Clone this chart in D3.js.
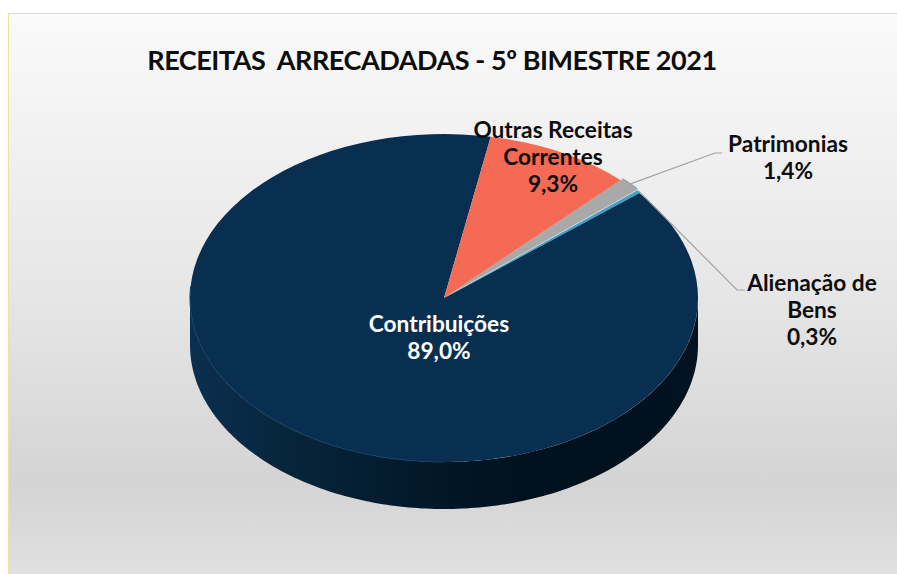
<!DOCTYPE html>
<html>
<head>
<meta charset="utf-8">
<script src="https://cdn.jsdelivr.net/npm/d3@7"></script>
<style>
html, body { margin: 0; padding: 0; background: #fff; }
svg { display: block; }
text { font-family: Lato, sans-serif; font-weight: 700; }
</style>
</head>
<body>
<script>
var categories = ["Contribuições", "Outras Receitas Correntes", "Patrimonias", "Alienação de Bens"];
var values = [89.0, 9.3, 1.4, 0.3];
var valueLabels = ["89,0%", "9,3%", "1,4%", "0,3%"];
var colors = ["#082e50", "#f56a54", "#a9a9a9", "#3f9fc4"];
var titleText = "RECEITAS  ARRECADADAS - 5º BIMESTRE 2021";

var width = 897, height = 574;
var cx = 444, cy = 298, rx = 254, ry = 164, depth = 47;
var squash = ry / rx;
var startDeg = 50.2;

var svg = d3.select("body").append("svg")
    .attr("width", width)
    .attr("height", height);

var defs = svg.append("defs");

var bg = defs.append("linearGradient")
    .attr("id", "bg")
    .attr("x1", 0).attr("y1", 0).attr("x2", 0).attr("y2", 1);
bg.append("stop").attr("offset", "0%").attr("stop-color", "#fafafa");
bg.append("stop").attr("offset", "50%").attr("stop-color", "#e6e6e6");
bg.append("stop").attr("offset", "84%").attr("stop-color", "#d4d4d4");
bg.append("stop").attr("offset", "100%").attr("stop-color", "#e0e0e0");

var sideGrad = defs.append("linearGradient")
    .attr("id", "side")
    .attr("gradientUnits", "userSpaceOnUse")
    .attr("x1", cx - rx).attr("y1", 0).attr("x2", cx + rx).attr("y2", 0);
sideGrad.append("stop").attr("offset", "0%").attr("stop-color", "#0b2f4f");
sideGrad.append("stop").attr("offset", "22%").attr("stop-color", "#062439");
sideGrad.append("stop").attr("offset", "50%").attr("stop-color", "#021626");
sideGrad.append("stop").attr("offset", "68%").attr("stop-color", "#01101d");
sideGrad.append("stop").attr("offset", "100%").attr("stop-color", "#02121f");

// background panel
svg.append("rect")
    .attr("x", 9).attr("y", 14)
    .attr("width", width - 9).attr("height", height - 14)
    .attr("fill", "url(#bg)");
svg.append("line")
    .attr("x1", 9).attr("x2", width).attr("y1", 13.5).attr("y2", 13.5)
    .attr("stroke", "#dcdcdc");
svg.append("line")
    .attr("x1", 8.5).attr("x2", 8.5).attr("y1", 13).attr("y2", height)
    .attr("stroke", "#e8e59a");

svg.append("text")
    .attr("x", 432).attr("y", 70)
    .attr("text-anchor", "middle")
    .attr("font-size", 27)
    .attr("letter-spacing", -0.45)
    .attr("fill", "#0d0d0d")
    .style("white-space", "pre")
    .text(titleText);

var pie = d3.pie()
    .sort(null)
    .startAngle(startDeg * Math.PI / 180)
    .endAngle((startDeg + 360) * Math.PI / 180);
var slices = pie(values);

var arc = d3.arc().innerRadius(0).outerRadius(rx);

// small slices sit a little out of the pie
var pull = [[0, 0], [0, 0], [2, -1.5], [1.5, -0.5]];

// point on the rim of the squashed pie, for leader lines
function rim(angle) {
    return [cx + rx * Math.sin(angle), cy - ry * Math.cos(angle)];
}

// side wall, lower half of the ellipse pushed down by the depth
var wallAngles = d3.range(90, 270.5, 1).map(function(d) { return d * Math.PI / 180; });
var wallBottom = wallAngles.map(function(a) { var p = rim(a); return [p[0], p[1] + depth]; });
var wallTop = wallAngles.slice().reverse().map(rim);
svg.append("path")
    .attr("d", d3.line()(wallBottom.concat(wallTop)) + "Z")
    .attr("fill", "url(#side)");

// top face
svg.selectAll(".slice")
    .data(slices)
    .enter().append("path")
    .attr("class", "slice")
    .attr("transform", function(d, i) {
        return "translate(" + (cx + pull[i][0]) + "," + (cy + pull[i][1]) + ") scale(1," + squash + ")";
    })
    .attr("d", arc)
    .attr("fill", function(d, i) { return colors[i]; });

// dark lip on the pulled out grey slice
var lipAngles = d3.range(slices[2].startAngle, slices[2].endAngle, 0.01)
    .map(function(a) { var p = rim(a); return [p[0] + pull[2][0], p[1] + pull[2][1]]; });
svg.append("path")
    .attr("d", d3.line()(lipAngles))
    .attr("fill", "none")
    .attr("stroke", "#8a8a8a")
    .attr("stroke-width", 1);

// thin highlight along the front left edge of the top face
svg.append("path")
    .attr("d", d3.line()(d3.range(180, 275, 1).map(function(d) { return rim(d * Math.PI / 180); })))
    .attr("fill", "none")
    .attr("stroke", "#123f63")
    .attr("stroke-width", 1);

// leader lines
var leaderPoints = [
    null,
    null,
    [[715, 153], [722, 153]],
    [[737, 290], [745, 290]]
];
slices.forEach(function(d, i) {
    if (!leaderPoints[i]) return;
    var start = rim((d.startAngle + d.endAngle) / 2);
    start = [start[0] + pull[i][0], start[1] + pull[i][1]];
    svg.append("path")
        .attr("d", d3.line()([start].concat(leaderPoints[i])))
        .attr("fill", "none")
        .attr("stroke", "#a3a3a3")
        .attr("stroke-width", 1.2);
});

// labels
var labelLines = [
    ["Contribuições"],
    ["Outras Receitas", "Correntes"],
    ["Patrimonias"],
    ["Alienação de", "Bens"]
];
var labelPos = [[439, 332], [553, 138], [788, 152], [812, 291]];
var labelColor = ["#ffffff", "#0d0d0d", "#0d0d0d", "#0d0d0d"];
var lineStep = 27;

categories.forEach(function(c, i) {
    var t = svg.append("text")
        .attr("x", labelPos[i][0])
        .attr("y", labelPos[i][1])
        .attr("text-anchor", "middle")
        .attr("font-size", 22.7)
        .attr("fill", labelColor[i]);
    labelLines[i].concat([valueLabels[i]]).forEach(function(line, j) {
        t.append("tspan")
            .attr("x", labelPos[i][0])
            .attr("dy", j === 0 ? 0 : lineStep)
            .text(line);
    });
});
</script>
</body>
</html>
